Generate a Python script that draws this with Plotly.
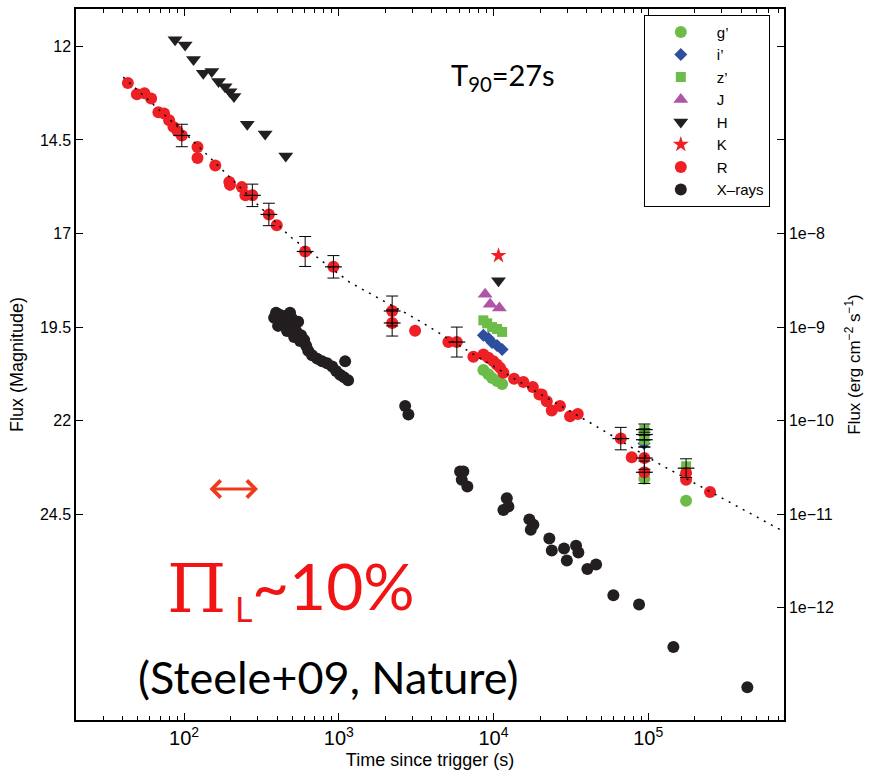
import math
import plotly.graph_objects as go

# ---------------- data ----------------
# R band (time [s], magnitude)
R_T = [43.3, 49.5, 55.4, 61.2, 68.2, 74.2, 80.0, 85.3, 90.5, 96.6, 122, 122, 159, 196, 198,
       236, 249, 276, 353, 397, 606, 923, 2213, 2213, 3113, 5108, 5794, 7413, 8606, 9268,
       9980, 10500, 11036, 11590, 13590, 15600, 17950, 19800, 20500, 22100, 23800, 26900,
       31250, 35070, 66500, 78300, 94450, 94450, 175800, 175800, 251000]
R_MAG = [12.98, 13.28, 13.25, 13.39, 13.76, 13.79, 13.97, 14.15, 14.26, 14.38, 14.69, 14.98,
         15.18, 15.62, 15.70, 15.76, 15.98, 15.98, 16.49, 16.78, 17.48, 17.89, 19.07, 19.39,
         19.60, 19.90, 19.90, 20.29, 20.23, 20.32, 20.41, 20.50, 20.59, 20.72, 20.88, 20.97,
         21.10, 21.30, 21.30, 21.48, 21.73, 21.61, 21.88, 21.82, 22.48, 22.98, 23.00, 23.38,
         23.40, 23.58, 23.91]

# H band
H_T = [87.4, 101.5, 115, 133, 151, 167, 184, 198, 210, 256, 334, 454, 10770]
H_MAG = [11.82, 11.96, 12.35, 12.72, 12.67, 12.94, 13.08, 13.21, 13.34, 14.08, 14.34, 14.93, 18.26]

# K band
K_T = [10770]
K_MAG = [17.59]

# J band
J_T = [8830, 9510, 10920]
J_MAG = [18.62, 18.89, 18.99]

# z' band
Z_T = [8600, 9100, 9790, 10550, 11370, 94450, 94450, 94450, 175800]
Z_MAG = [19.32, 19.40, 19.50, 19.55, 19.63, 22.24, 22.37, 22.51, 23.22]

# i' band
I_T = [8600, 9270, 9790, 10550, 11370, 94000]
I_MAG = [19.72, 19.80, 19.91, 19.99, 20.10, 22.61]

# g' band
G_T = [8600, 9270, 9790, 10550, 11370, 94450, 175800]
G_MAG = [20.65, 20.76, 20.86, 20.94, 21.02, 23.55, 24.14]

# X-rays (time [s], flux [erg cm^-2 s^-1])
XR_T = [382, 418, 457, 499, 546, 436, 484, 530, 570, 597, 615, 634, 672, 724, 780, 840,
        906, 961, 1019, 1082, 1148, 1099, 393, 484, 405, 463, 514, 562,
        2685, 2818, 6081, 6385, 6234, 6776, 12190, 12480,
        11590, 17060, 18110, 17420, 22960, 23810, 28580, 34180, 35380, 29790, 40460, 46040,
        59550, 87300, 145500, 437500]
XR_F = [1.26e-9, 1.35e-9, 1.32e-9, 1.23e-9, 1.14e-9, 1.11e-9, 1.01e-9, 9.1e-10, 8.2e-10,
        7.3e-10, 6.3e-10, 5.6e-10, 5.0e-10, 4.6e-10, 4.3e-10, 4.1e-10, 3.8e-10, 3.4e-10,
        3.1e-10, 2.9e-10, 2.7e-10, 4.3e-10, 1.42e-9, 1.42e-9, 1.03e-9, 9.1e-10, 7.85e-10, 7.1e-10,
        1.43e-10, 1.16e-10, 2.86e-11, 2.86e-11, 2.33e-11,
        1.98e-11, 1.48e-11, 1.21e-11, 1.11e-11, 8.8e-12, 7.7e-12, 6.8e-12, 5.5e-12, 4.1e-12,
        4.3e-12, 4.6e-12, 3.9e-12, 3.2e-12, 2.6e-12, 2.9e-12, 1.36e-12, 1.08e-12, 3.8e-13,
        1.41e-13]

# Points carrying error bars (time, magnitude, half-length in mag)
ERR_T = [96.6, 276, 353, 606, 923, 2213, 2213, 5794, 66500, 94450, 94450, 94450, 94450, 94450, 175800]
ERR_MAG = [14.38, 15.98, 16.49, 17.48, 17.89, 19.07, 19.39, 19.90, 22.48, 22.24, 22.37, 22.51,
           23.00, 23.38, 23.27]
ERR_DMAG = [0.30, 0.30, 0.30, 0.40, 0.30, 0.40, 0.35, 0.40, 0.30, 0.15, 0.15, 0.20, 0.30, 0.30, 0.25]

# Fitted light-curve model (dotted)
FIT_T = [40.4, 109.3, 484, 1183, 3160, 7380, 20000, 44000, 119400, 755000]
FIT_MAG = [12.82, 14.45, 17.08, 18.31, 19.28, 20.22, 21.29, 22.10, 23.17, 24.97]

# Axis ticks
MAG_TICKS = [12, 14.5, 17, 19.5, 22, 24.5]
MAG_TICKTEXT = ["12", "14.5", "17", "19.5", "22", "24.5"]
FLUX_TICKS = [1e-8, 1e-9, 1e-10, 1e-11, 1e-12]
FLUX_TICKTEXT = ["1e\u22128", "1e\u22129", "1e\u221210", "1e\u221211", "1e\u221212"]

# ---------------- style ----------------
RED = "#ee1f25"
GREEN = "#6cbd48"
BLUE = "#2e4f9f"
PURPLE = "#b055a5"
BLACK = "#231f20"
TXT_RED = "#f01414"

fig = go.Figure()

fig.add_trace(go.Scatter(x=G_T, y=G_MAG, mode="markers", name="g\u2019",
                         marker=dict(symbol="circle", size=12, color=GREEN)))
fig.add_trace(go.Scatter(x=I_T, y=I_MAG, mode="markers", name="i\u2019",
                         marker=dict(symbol="diamond", size=10, color=BLUE)))
fig.add_trace(go.Scatter(x=Z_T, y=Z_MAG, mode="markers", name="z\u2019",
                         marker=dict(symbol="square", size=10, color=GREEN)))
fig.add_trace(go.Scatter(x=J_T, y=J_MAG, mode="markers", name="J",
                         marker=dict(symbol="triangle-up", size=13, color=PURPLE)))
fig.add_trace(go.Scatter(x=H_T, y=H_MAG, mode="markers", name="H",
                         marker=dict(symbol="triangle-down", size=13, color=BLACK)))
fig.add_trace(go.Scatter(x=K_T, y=K_MAG, mode="markers", name="K",
                         marker=dict(symbol="star", size=12, color=RED)))
fig.add_trace(go.Scatter(x=R_T, y=R_MAG, mode="markers", name="R",
                         marker=dict(symbol="circle", size=12, color=RED)))
fig.add_trace(go.Scatter(x=XR_T, y=XR_F, mode="markers", name="X\u2013rays", yaxis="y2",
                         marker=dict(symbol="circle", size=12, color=BLACK)))

fig.add_trace(go.Scatter(x=FIT_T, y=FIT_MAG, mode="lines", showlegend=False, hoverinfo="skip",
                         line=dict(color="black", width=1.5, dash="2px,6px")))

fig.add_trace(go.Scatter(x=ERR_T, y=ERR_MAG, mode="markers", showlegend=False,
                         marker=dict(symbol="line-ew", size=12, color="black",
                                     line=dict(color="black", width=1.2)),
                         error_y=dict(type="data", array=ERR_DMAG, color="black",
                                      thickness=1, width=6)))

# ---------------- annotations ----------------
def px_x(px):
    return (px - 76) / 708.0


def px_y(py):
    return (720 - py) / 711.0


annos = [
    dict(text="T<sub>90</sub>=27s", x=px_x(503), y=px_y(76),
         font=dict(family="Lato", size=29, color="black")),
    dict(text="(Steele+09, Nature)", x=px_x(328), y=px_y(677),
         font=dict(family="Lato", size=45, color="black")),
    dict(text="\u03a0", x=px_x(196), y=px_y(588),
         font=dict(family="DejaVu Serif", size=68, color=TXT_RED)),
    dict(text="L", x=px_x(243), y=px_y(608),
         font=dict(family="Lato", size=34, color=TXT_RED)),
    dict(text="~10%", x=px_x(333), y=px_y(585),
         font=dict(family="Lato", size=64, color=TXT_RED)),
]
for a in annos:
    a.update(xref="paper", yref="paper", showarrow=False, xanchor="center", yanchor="middle")
    fig.add_annotation(**a)

fig.add_annotation(x=px_x(258), y=px_y(489), xref="paper", yref="paper",
                   ax=-50, ay=0, axref="pixel", ayref="pixel", text="",
                   showarrow=True, arrowhead=4, arrowside="end+start", arrowsize=1.1,
                   arrowwidth=3, arrowcolor="#f03a1e")

axis_common = dict(showline=True, linecolor="black", linewidth=1.5, showgrid=False,
                   zeroline=False, ticks="inside", ticklen=7, tickwidth=1, tickcolor="black",
                   automargin=False)

fig.update_layout(
    width=872, height=770,
    margin=dict(l=76, r=88, t=9, b=50),
    paper_bgcolor="white", plot_bgcolor="white",
    font=dict(family="Liberation Sans", size=16, color="black"),
    legend=dict(x=0.802, y=0.992, xanchor="left", yanchor="top", bgcolor="white",
                bordercolor="black", borderwidth=1, font=dict(size=15), itemwidth=62,
                tracegroupgap=0),
    xaxis=dict(type="log", range=[math.log10(20), 5.878], dtick=1, exponentformat="power",
               mirror="ticks",
               minor=dict(ticks="inside", ticklen=4, dtick="D1", tickcolor="black", showgrid=False),
               title=dict(text="Time since trigger (s)", font=dict(size=18)),
               **axis_common),
    yaxis=dict(range=[30, 11], tickvals=MAG_TICKS, ticktext=MAG_TICKTEXT, mirror="ticks",
               title=dict(text="Flux (Magnitude)", font=dict(size=18), standoff=12),
               **axis_common),
    yaxis2=dict(type="log", overlaying="y", side="right", range=[-13.2, -5.6],
                tickvals=FLUX_TICKS, ticktext=FLUX_TICKTEXT,
                title=dict(text="Flux (erg cm<sup>\u22122</sup> s<sup>\u22121</sup>)", font=dict(size=17)),
                **axis_common),
)

fig.write_html("out.html", config={"displayModeBar": False},
               post_script="document.body.style.margin='0';")
